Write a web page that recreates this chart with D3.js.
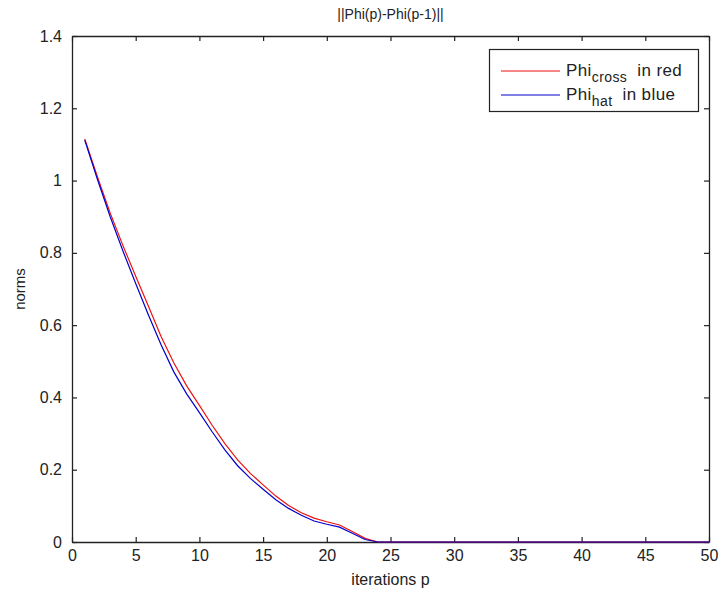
<!DOCTYPE html>
<html>
<head>
<meta charset="utf-8">
<script src="https://cdn.jsdelivr.net/npm/d3@7"></script>
<style>
  html, body { margin: 0; padding: 0; background: #ffffff; }
  svg { display: block; font-family: "Liberation Sans", Arial, sans-serif; }
</style>
</head>
<body>
<svg id="chart" width="721" height="599"></svg>
<script>
// ---- data ----
const iterations = [1,2,3,4,5,6,7,8,9,10,11,12,13,14,15,16,17,18,19,20,21,22,23,24,25,
  26,27,28,29,30,31,32,33,34,35,36,37,38,39,40,41,42,43,44,45,46,47,48,49,50];
const phiCross = [1.115,1.010,0.910,0.820,0.735,0.652,0.568,0.495,0.432,0.378,0.323,0.272,0.227,0.190,0.158,
  0.127,0.101,0.081,0.066,0.056,0.047,0.029,0.010,0.000,0.000,
  0,0,0,0,0,0,0,0,0,0,0,0,0,0,0,0,0,0,0,0,0,0,0,0,0];
const phiHat = [1.112,1.003,0.900,0.805,0.715,0.628,0.545,0.470,0.410,0.358,0.305,0.255,0.211,0.176,0.146,
  0.117,0.093,0.074,0.058,0.049,0.041,0.024,0.007,0.000,0.000,
  0,0,0,0,0,0,0,0,0,0,0,0,0,0,0,0,0,0,0,0,0,0,0,0,0];
const xTicks = [0,5,10,15,20,25,30,35,40,45,50];
const yTicks = [0,0.2,0.4,0.6,0.8,1,1.2,1.4];
const yTickLabels = ["0","0.2","0.4","0.6","0.8","1","1.2","1.4"];
const titleText = "||Phi(p)-Phi(p-1)||";
const xLabel = "iterations p";
const yLabel = "norms";
const legendItems = [
  {base: "Phi", sub: "cross", rest: "in red", color: "#ee1111"},
  {base: "Phi", sub: "hat", rest: "in blue", color: "#0000cc"}
];

// ---- layout ----
const pLeft = 72, pRight = 709, pTop = 36, pBottom = 542;
const svg = d3.select("#chart");
const x = d3.scaleLinear().domain([0, 50]).range([pLeft, pRight]);
const y = d3.scaleLinear().domain([0, 1.4]).range([pBottom, pTop]);
const tickFont = 16;

svg.append("rect").attr("x", pLeft).attr("y", pTop)
  .attr("width", pRight - pLeft).attr("height", pBottom - pTop)
  .attr("fill", "#fff").attr("stroke", "none");

const xAxisB = d3.axisBottom(x).tickValues(xTicks).tickSizeInner(-5).tickSizeOuter(0).tickPadding(8);
const xAxisT = d3.axisTop(x).tickValues(xTicks).tickSizeInner(-5).tickSizeOuter(0).tickFormat("");
const yAxisL = d3.axisLeft(y).tickValues(yTicks).tickSizeInner(-5).tickSizeOuter(0).tickPadding(10)
  .tickFormat((d, i) => yTickLabels[i]);
const yAxisR = d3.axisRight(y).tickValues(yTicks).tickSizeInner(-5).tickSizeOuter(0).tickFormat("");

function style(g) {
  g.selectAll("path").attr("stroke", "#222").attr("stroke-width", 1.3);
  g.selectAll("line").attr("stroke", "#222").attr("stroke-width", 1.2);
  g.selectAll("text").attr("fill", "#222").attr("font-size", tickFont)
    .attr("font-family", "'Liberation Sans', Arial, sans-serif");
}
svg.append("g").attr("transform", `translate(0,${pBottom})`).call(xAxisB).call(style);
svg.append("g").attr("transform", `translate(0,${pTop})`).call(xAxisT).call(style);
svg.append("g").attr("transform", `translate(${pLeft},0)`).call(yAxisL).call(style);
svg.append("g").attr("transform", `translate(${pRight},0)`).call(yAxisR).call(style);

const line = d3.line().x((d, i) => x(iterations[i])).y(d => y(d));
svg.append("path").datum(phiCross).attr("d", line)
  .attr("fill", "none").attr("stroke", legendItems[0].color).attr("stroke-width", 1.2);
svg.append("path").datum(phiHat).attr("d", line)
  .attr("fill", "none").attr("stroke", legendItems[1].color).attr("stroke-width", 1.2);

svg.append("text").attr("x", (pLeft + pRight) / 2).attr("y", 19).attr("text-anchor", "middle")
  .attr("font-size", 14).attr("fill", "#222").text(titleText);
svg.append("text").attr("x", (pLeft + pRight) / 2).attr("y", 585).attr("text-anchor", "middle")
  .attr("font-size", 16).attr("fill", "#222").text(xLabel);
svg.append("text").attr("transform", `translate(25,${(pTop + pBottom) / 2}) rotate(-90)`)
  .attr("text-anchor", "middle").attr("font-size", 15).attr("fill", "#222").text(yLabel);

const lg = svg.append("g");
lg.append("rect").attr("x", 489.5).attr("y", 49.5).attr("width", 209).attr("height", 62)
  .attr("fill", "#fff").attr("stroke", "#222").attr("stroke-width", 1.2);
legendItems.forEach((it, i) => {
  const ly = 71 + i * 24;
  lg.append("line").attr("x1", 501).attr("x2", 560).attr("y1", ly).attr("y2", ly)
    .attr("stroke", it.color).attr("stroke-width", 1.2);
  const t = lg.append("text").attr("x", 566).attr("y", ly + 5).attr("font-size", 17)
    .attr("letter-spacing", 0.4).attr("fill", "#222");
  t.append("tspan").text(it.base);
  t.append("tspan").attr("dy", 6).attr("font-size", 14).text(it.sub);
  t.append("tspan").attr("dy", -6).attr("dx", 10).text(it.rest);
});
</script>
</body>
</html>
